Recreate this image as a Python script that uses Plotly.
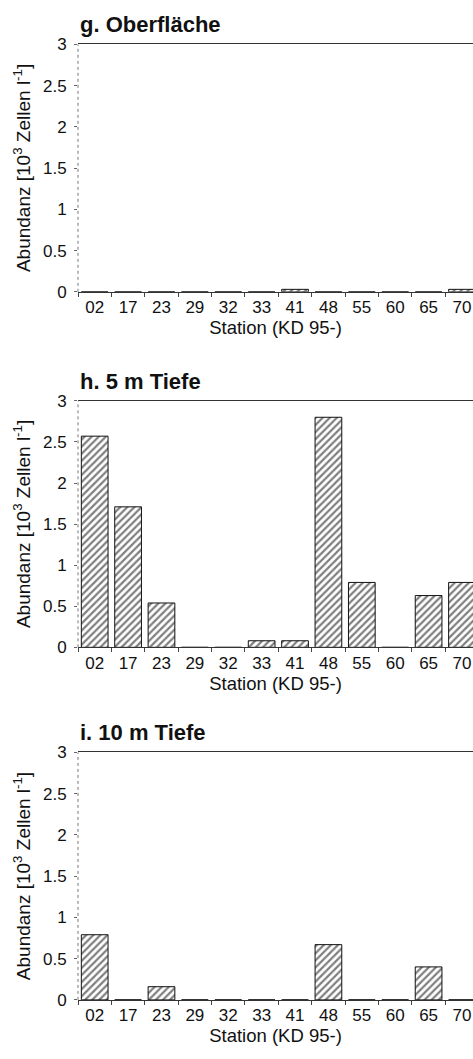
import plotly.graph_objects as go

stations = ["02", "17", "23", "29", "32", "33", "41", "48", "55", "60", "65", "70"]
oberflaeche = [0, 0, 0, 0, 0, 0, 0.03, 0, 0, 0, 0, 0.03]
tiefe_5m = [2.57, 1.71, 0.54, 0, 0, 0.08, 0.08, 2.80, 0.79, 0, 0.63, 0.79]
tiefe_10m = [0.79, 0, 0.16, 0, 0, 0, 0, 0.67, 0, 0, 0.40, 0]
panel_titles = ["g. Oberfläche", "h. 5 m Tiefe", "i. 10 m Tiefe"]
y_ticks = [0, 0.5, 1, 1.5, 2, 2.5, 3]
y_ticktext = ["0", "0.5", "1", "1.5", "2", "2.5", "3"]

W, H = 473, 1059
left_px = 78
panels_px = [(36, 288), (399, 650), (757, 1009)]
series = [oberflaeche, tiefe_5m, tiefe_10m]

FONT = "Liberation Sans, Arial, Helvetica, sans-serif"

fig = go.Figure()
layout = dict(
    width=W, height=H,
    margin=dict(l=0, r=0, t=0, b=0),
    paper_bgcolor="white", plot_bgcolor="white",
    showlegend=False, bargap=0.2,
    font=dict(family=FONT, color="#111", size=16),
)
annotations = []
shapes = []
x0 = left_px / W
for i, (vals, (top, bot)) in enumerate(zip(series, panels_px)):
    suffix = "" if i == 0 else str(i + 1)
    fig.add_trace(go.Bar(
        x=stations, y=vals,
        xaxis="x" + suffix, yaxis="y" + suffix,
        marker=dict(color="white", line=dict(color="#111", width=1),
                    pattern=dict(shape="/", fgcolor="#000", bgcolor="white",
                                 size=5, solidity=0.45)),
    ))
    ydom = [1 - bot / H, 1 - top / H]
    layout["xaxis" + suffix] = dict(
        domain=[x0, 1], anchor="y" + suffix, type="category",
        range=[-0.5, 11.33], tickson="boundaries", ticks="outside",
        ticklen=4, tickcolor="#444", showline=True, linecolor="#333",
        linewidth=1, mirror=True, showgrid=False,
        tickfont=dict(size=17, family=FONT),
        title=dict(text="Station (KD 95-)", font=dict(size=18.5, family=FONT), standoff=1),
    )
    layout["yaxis" + suffix] = dict(
        domain=ydom, anchor="x" + suffix, range=[0, 3],
        tickvals=y_ticks, ticktext=y_ticktext, ticks="outside", ticklen=3,
        tickcolor="#666", showline=False, showgrid=False, zeroline=False,
        tickfont=dict(size=17, family=FONT), ticklabelstandoff=4,
    )
    shapes.append(dict(
        type="line", xref="paper", yref="paper", x0=x0, x1=x0,
        y0=ydom[0], y1=ydom[1], line=dict(color="#777", width=1, dash="dot"),
    ))
    annotations.append(dict(
        text="<b>" + panel_titles[i] + "</b>", x=x0, y=1 - (top - 20) / H,
        xref="paper", yref="paper", xanchor="left", yanchor="middle",
        showarrow=False, font=dict(size=22, family=FONT, color="#111"),
    ))
    annotations.append(dict(
        text="Abundanz [10<sup>3</sup> Zellen l<sup>-1</sup>]",
        x=22 / W, y=1 - ((top + bot) / 2) / H, xref="paper", yref="paper",
        xanchor="center", yanchor="middle", textangle=-90, showarrow=False,
        font=dict(size=19, family=FONT, color="#111"),
    ))
layout["annotations"] = annotations
layout["shapes"] = shapes
fig.update_layout(**layout)
fig.write_html("out.html")
